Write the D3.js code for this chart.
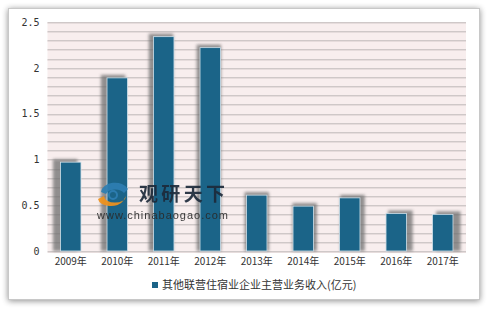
<!DOCTYPE html>
<html>
<head>
<meta charset="utf-8">
<script src="https://cdn.jsdelivr.net/npm/d3@7"></script>
<style>
  body { margin: 0; background: #fff; }
  svg { display: block; }
</style>
</head>
<body>
<div id="vis"></div>
<script>
var width = 487,
    height = 309;

var years = ["2009年", "2010年", "2011年", "2012年", "2013年", "2014年", "2015年", "2016年", "2017年"];
var revenue = [0.97, 1.89, 2.34, 2.22, 0.61, 0.49, 0.58, 0.41, 0.40];
var yTicks = [0, 0.5, 1, 1.5, 2, 2.5];
var seriesName = "其他联营住宿业企业主营业务收入(亿元)";

var plot = {left: 47.5, right: 466, top: 22, bottom: 251};

var svg = d3.select("#vis").append("svg")
    .attr("width", width)
    .attr("height", height);

var defs = svg.append("defs");
var cardShadow = defs.append("filter").attr("id", "cardShadow")
    .attr("x", "-5%").attr("y", "-5%").attr("width", "110%").attr("height", "110%");
cardShadow.append("feGaussianBlur").attr("in", "SourceAlpha").attr("stdDeviation", 3);
cardShadow.append("feOffset").attr("dx", 0).attr("dy", 1).attr("result", "b");
cardShadow.append("feComponentTransfer").append("feFuncA").attr("type", "linear").attr("slope", 0.45);
var m = cardShadow.append("feMerge");
m.append("feMergeNode");
m.append("feMergeNode").attr("in", "SourceGraphic");

var barBlur = defs.append("filter").attr("id", "barBlur")
    .attr("x", "-50%").attr("y", "-20%").attr("width", "200%").attr("height", "140%");
barBlur.append("feGaussianBlur").attr("stdDeviation", 1.6);

// card
svg.append("rect")
    .attr("x", 8.5).attr("y", 8.5)
    .attr("width", 471).attr("height", 291)
    .attr("fill", "#fff")
    .attr("stroke", "#c8c8c8")
    .attr("filter", "url(#cardShadow)");

var x = d3.scaleBand()
    .domain(years)
    .range([plot.left, plot.right])
    .paddingInner(0.56)
    .paddingOuter(0.28);

var y = d3.scaleLinear()
    .domain([0, 2.5])
    .range([plot.bottom, plot.top]);

// plot background
svg.append("rect")
    .attr("x", plot.left).attr("y", plot.top)
    .attr("width", plot.right - plot.left).attr("height", plot.bottom - plot.top)
    .attr("fill", "#f8eeee");

// grid lines every 0.1
var gridVals = d3.range(0, 26).map(function(i) { return i / 10; });
svg.append("g").selectAll("line.g2").data(gridVals).enter()
    .append("line")
    .attr("x1", plot.left).attr("x2", plot.right)
    .attr("y1", function(d) { return Math.round(y(d)) + 1.5; })
    .attr("y2", function(d) { return Math.round(y(d)) + 1.5; })
    .attr("stroke", "#e6dcdc");
svg.append("g").selectAll("line.g1").data(gridVals).enter()
    .append("line")
    .attr("x1", plot.left).attr("x2", plot.right)
    .attr("y1", function(d) { return Math.round(y(d)) + 0.5; })
    .attr("y2", function(d) { return Math.round(y(d)) + 0.5; })
    .attr("stroke", "#cfc8c8");

// y axis labels
svg.append("g")
    .attr("transform", "translate(" + plot.left + ",0)")
    .call(d3.axisLeft(y).tickValues(yTicks).tickSize(0).tickPadding(8)
        .tickFormat(function(d) { return String(d); }))
    .call(function(g) { g.select(".domain").remove(); })
    .selectAll("text")
    .attr("fill", "#333")
    .style("font-family", "'DejaVu Sans Mono', monospace")
    .style("font-size", "10px");

// bar shadows
var mid = (plot.left + plot.right) / 2;
svg.append("g").selectAll("rect").data(revenue).enter()
    .append("rect")
    .attr("x", function(d, i) {
        var cx = x(years[i]) + x.bandwidth() / 2;
        return x(years[i]) - 2 + (cx - mid) * 0.03;
    })
    .attr("y", function(d) { return y(d) - 3; })
    .attr("width", x.bandwidth() + 4)
    .attr("height", function(d) { return plot.bottom - y(d) + 3; })
    .attr("fill", "#6e6e6e")
    .attr("opacity", 0.75)
    .attr("filter", "url(#barBlur)");

// bars
svg.append("g").selectAll("rect").data(revenue).enter()
    .append("rect")
    .attr("x", function(d, i) { return x(years[i]); })
    .attr("y", function(d) { return y(d); })
    .attr("width", x.bandwidth())
    .attr("height", function(d) { return plot.bottom - y(d); })
    .attr("fill", "#1b6488")
    .attr("stroke", "#cfe0ea")
    .attr("stroke-width", 0.8);

// x axis labels
svg.append("g")
    .attr("transform", "translate(0," + plot.bottom + ")")
    .call(d3.axisBottom(x).tickSize(0).tickPadding(7))
    .call(function(g) { g.select(".domain").remove(); })
    .selectAll("text")
    .attr("fill", "#333")
    .style("font-family", "'Noto Sans CJK SC', sans-serif")
    .style("font-size", "10px");

// watermark
var wm = svg.append("g").attr("opacity", 0.92);
wm.append("path")
    .attr("d", "M101,192 A14,10 0 0 1 128,189 L124,193 A10,7 0 0 0 106,194 Z")
    .attr("fill", "#2e7fb3");
wm.append("path")
    .attr("d", "M98,199 A13,8 0 0 0 123,201 L126,196 A10,6 0 0 1 104,196 Z")
    .attr("fill", "#f0921c");
wm.append("circle").attr("cx", 113).attr("cy", 195).attr("r", 4).attr("fill", "none")
    .attr("stroke", "#2e7fb3").attr("stroke-width", 2);
wm.append("text")
    .attr("x", 139).attr("y", 201)
    .attr("font-family", "'Noto Sans CJK SC', sans-serif")
    .attr("font-weight", "bold")
    .attr("font-size", "19px")
    .attr("fill", "#1d2a3a")
    .attr("textLength", 86)
    .text("观研天下");
wm.append("text")
    .attr("x", 97).attr("y", 218.5)
    .attr("font-family", "Arial, 'Liberation Sans', sans-serif")
    .attr("font-size", "11px")
    .attr("fill", "#2a2a2a")
    .attr("textLength", 131)
    .text("www.chinabaogao.com");

// legend
svg.append("rect")
    .attr("x", 152).attr("y", 282)
    .attr("width", 6).attr("height", 6)
    .attr("fill", "#1b6488");
svg.append("text")
    .attr("x", 162).attr("y", 288.5)
    .attr("font-family", "'Noto Sans CJK SC', sans-serif")
    .attr("font-size", "11px")
    .attr("fill", "#333")
    .text(seriesName);
</script>
</body>
</html>
